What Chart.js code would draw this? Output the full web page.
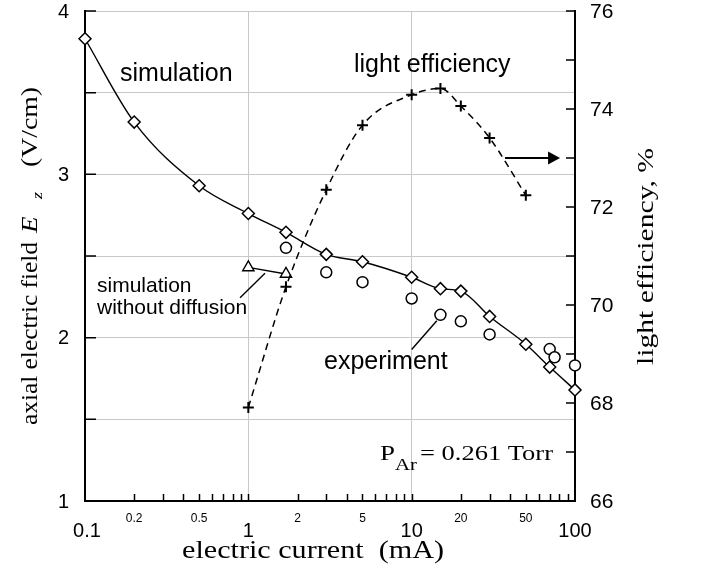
<!DOCTYPE html>
<html><head><meta charset="utf-8">
<script src="https://cdn.jsdelivr.net/npm/chart.js@4/dist/chart.umd.min.js"></script>
<style>html,body{margin:0;padding:0;background:#fff;}</style>
</head><body>
<canvas id="c" width="704" height="581"></canvas>
<script>
// ---- data ----
const simCurrent = [0.1, 0.2, 0.5, 1, 1.7, 3, 5, 10, 15, 20, 30, 50, 70, 100];
const simField   = [3.83, 3.32, 2.93, 2.76, 2.645, 2.51, 2.465, 2.37, 2.30, 2.285, 2.13, 1.96, 1.82, 1.68];
const expCurrent = [1.7, 3, 5, 10, 15, 20, 30, 70, 75, 100];
const expField   = [2.55, 2.40, 2.34, 2.24, 2.14, 2.10, 2.02, 1.93, 1.88, 1.83];
const noDiffCurrent = [1, 1.7];
const noDiffField   = [2.43, 2.39];
const effCurrent = [1, 1.7, 3, 5, 10, 15, 20, 30, 50];
const efficiency = [67.91, 70.37, 72.35, 73.67, 74.29, 74.42, 74.06, 73.41, 72.24];
const xTickValues = [0.1,0.2,0.3,0.4,0.5,0.6,0.7,0.8,0.9,1,2,3,4,5,6,7,8,9,10,20,30,40,50,60,70,80,90,100];
const xMajorLabels = [0.1, 1, 10, 100];
const xMinorLabels = [0.2, 0.5, 2, 5, 20, 50];
const xGridValues = [1, 10];
const yLeftLabels = [1, 2, 3, 4];
const yRightLabels = [66, 68, 70, 72, 74, 76];
// annotation anchors in data coordinates
const noDiffPointer = [[0.89, 2.244], [1.265, 2.394]];
const expPointer = [[10.0, 1.928], [14.25, 2.104]];
const effArrow = [[37.3, 73], [81, 73]];

const SANS = '"Liberation Sans", Arial, sans-serif';
const SERIF = '"Liberation Serif", "Times New Roman", serif';
const pts = (xs, ys) => xs.map((x, i) => ({x: x, y: ys[i]}));

function stretchText(ctx, text, x, y, width, font, rot) {
  ctx.save();
  ctx.font = font; ctx.textAlign = 'left'; ctx.textBaseline = 'alphabetic';
  const w = ctx.measureText(text).width;
  ctx.translate(x, y);
  if (rot) ctx.rotate(rot);
  ctx.scale(width / w, 1);
  ctx.fillText(text, 0, 0);
  ctx.restore();
}

const overlay = {
  id: 'overlay',
  afterDraw(chart) {
    const ctx = chart.ctx, a = chart.chartArea;
    const X = chart.scales.x, Y = chart.scales.y, Y1 = chart.scales.y1;
    ctx.save();
    ctx.fillStyle = '#000'; ctx.strokeStyle = '#000';
    // inward tick marks
    ctx.lineWidth = 1.5;
    ctx.beginPath();
    xTickValues.forEach(v => {
      if (v === 0.1 || v === 100) return;
      const px = Math.round(X.getPixelForValue(v)) + 0.5;
      ctx.moveTo(px, a.bottom); ctx.lineTo(px, a.bottom - 7);
    });
    Y.ticks.forEach(t => {
      const py = Y.getPixelForValue(t.value);
      ctx.moveTo(a.left, py); ctx.lineTo(a.left + 11, py);
    });
    Y1.ticks.forEach(t => {
      const py = Y1.getPixelForValue(t.value);
      ctx.moveTo(a.right, py); ctx.lineTo(a.right - 9, py);
    });
    ctx.stroke();

    // tick labels
    ctx.textBaseline = 'middle';
    ctx.textAlign = 'right'; ctx.font = '20px ' + SANS;
    yLeftLabels.forEach(v => ctx.fillText(String(v), a.left - 16, Y.getPixelForValue(v) + 1));
    ctx.textAlign = 'left'; ctx.font = '21px ' + SANS;
    yRightLabels.forEach(v => ctx.fillText(String(v), a.right + 15, Y1.getPixelForValue(v) + 1));
    ctx.textAlign = 'center'; ctx.font = '20px ' + SANS;
    xMajorLabels.forEach(v => ctx.fillText(String(v), X.getPixelForValue(v) + (v === 0.1 ? 2 : 0), a.bottom + 30));
    ctx.font = '12px ' + SANS;
    xMinorLabels.forEach(v => ctx.fillText(String(v), X.getPixelForValue(v), a.bottom + 17.5));

    // pointer lines and arrow
    ctx.lineWidth = 1.4;
    [noDiffPointer, expPointer].forEach(p => {
      ctx.beginPath();
      ctx.moveTo(X.getPixelForValue(p[0][0]), Y.getPixelForValue(p[0][1]));
      ctx.lineTo(X.getPixelForValue(p[1][0]), Y.getPixelForValue(p[1][1]));
      ctx.stroke();
    });
    const ax0 = X.getPixelForValue(effArrow[0][0]), ay = Y1.getPixelForValue(effArrow[0][1]);
    const ax1 = X.getPixelForValue(effArrow[1][0]);
    ctx.lineWidth = 2;
    ctx.beginPath(); ctx.moveTo(ax0, ay); ctx.lineTo(ax1 - 10, ay); ctx.stroke();
    ctx.beginPath(); ctx.moveTo(ax1, ay); ctx.lineTo(ax1 - 12, ay - 6.5); ctx.lineTo(ax1 - 12, ay + 6.5); ctx.closePath(); ctx.fill();

    // annotation texts (sans)
    ctx.textAlign = 'left'; ctx.textBaseline = 'alphabetic';
    ctx.font = '25px ' + SANS;
    ctx.fillText('simulation', 120, 81);
    ctx.fillText('light efficiency', 354, 72);
    ctx.fillText('experiment', 324, 369);
    ctx.font = '21px ' + SANS;
    ctx.fillText('simulation', 97, 292);
    ctx.fillText('without diffusion', 97, 314);

    // serif texts
    stretchText(ctx, 'electric current  (mA)', 182, 558, 262, '25px ' + SERIF);
    const R = -Math.PI / 2;
    stretchText(ctx, 'axial electric field', 37, 425, 183, '24px ' + SERIF, R);
    stretchText(ctx, 'E', 37, 233, 16.5, 'italic 24px ' + SERIF, R);
    stretchText(ctx, 'z', 42, 199, 7, 'italic 15px ' + SERIF, R);
    stretchText(ctx, '(V/cm)', 37, 167, 80, '24px ' + SERIF, R);
    stretchText(ctx, 'light efficiency, %', 653, 365, 217, '24px ' + SERIF, R);
    stretchText(ctx, 'P', 380, 460, 15, '20px ' + SERIF);
    stretchText(ctx, 'Ar', 395, 470, 22, '17px ' + SERIF);
    stretchText(ctx, '= 0.261 Torr', 420, 460, 133, '20px ' + SERIF);
    ctx.restore();
  }
};

new Chart(document.getElementById('c').getContext('2d'), {
  type: 'line',
  data: {
    datasets: [
      { label: 'light efficiency', data: pts(effCurrent, efficiency), yAxisID: 'y1',
        borderColor: '#000', borderWidth: 1.5, borderDash: [7, 5], fill: false,
        pointStyle: 'cross', pointRadius: 5.5, pointBorderWidth: 2, pointBorderColor: '#000',
        cubicInterpolationMode: 'monotone', clip: false },
      { label: 'simulation without diffusion', data: pts(noDiffCurrent, noDiffField), yAxisID: 'y',
        borderColor: '#000', borderWidth: 1.4, fill: false,
        pointStyle: 'triangle', pointRadius: 6.5, pointBorderWidth: 1.4, pointBorderColor: '#000',
        pointBackgroundColor: '#fff', clip: false },
      { label: 'simulation', data: pts(simCurrent, simField), yAxisID: 'y',
        borderColor: '#000', borderWidth: 1.4, fill: false,
        pointStyle: 'rectRot', pointRadius: 6, pointBorderWidth: 1.5, pointBorderColor: '#000',
        pointBackgroundColor: '#fff', cubicInterpolationMode: 'monotone', clip: false },
      { label: 'experiment', data: pts(expCurrent, expField), yAxisID: 'y', showLine: false,
        pointStyle: 'circle', pointRadius: 5.5, pointBorderWidth: 1.5, pointBorderColor: '#000',
        pointBackgroundColor: '#fff', clip: false }
    ]
  },
  options: {
    responsive: false, animation: false, devicePixelRatio: 1,
    layout: { padding: { left: 85, right: 129, top: 11, bottom: 80 } },
    plugins: { legend: { display: false }, tooltip: { enabled: false } },
    scales: {
      x: { type: 'logarithmic', min: 0.1, max: 100, position: 'bottom',
        afterBuildTicks: s => { s.ticks = xTickValues.map(v => ({ value: v })); },
        ticks: { display: false },
        grid: { drawTicks: false, lineWidth: 1,
          color: c => (c.tick && xGridValues.includes(c.tick.value)) ? '#c8c8c8' : 'rgba(0,0,0,0)' },
        border: { display: true, color: '#000', width: 2 } },
      y: { type: 'linear', min: 1, max: 4, position: 'left',
        ticks: { display: false, stepSize: 0.5 },
        grid: { drawTicks: false, lineWidth: 1,
          color: c => (c.tick && c.tick.value > 1) ? '#c8c8c8' : 'rgba(0,0,0,0)' },
        border: { display: true, color: '#000', width: 2 } },
      y1: { type: 'linear', min: 66, max: 76, position: 'right',
        ticks: { display: false, stepSize: 1 },
        grid: { display: false, drawTicks: false },
        border: { display: true, color: '#000', width: 2 } }
    }
  },
  plugins: [overlay]
});
</script>
</body></html>
